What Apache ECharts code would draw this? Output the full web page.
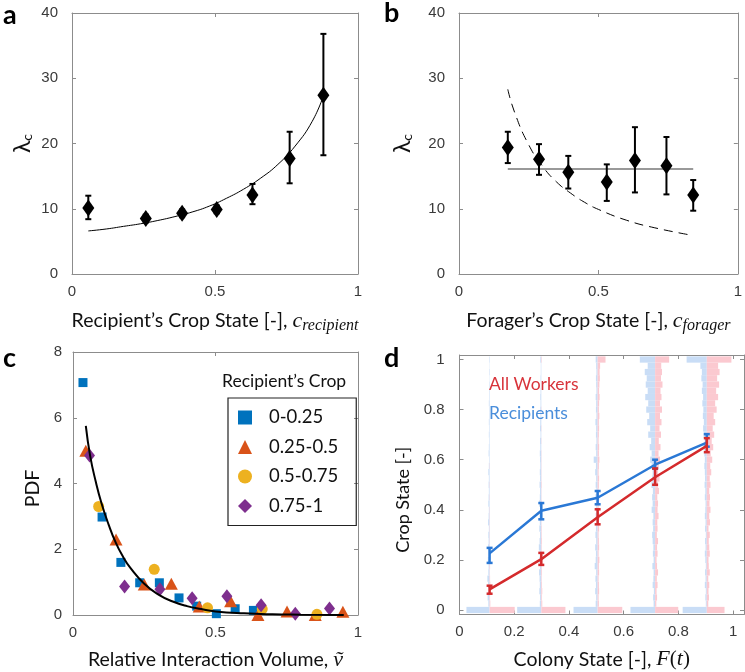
<!DOCTYPE html>
<html><head><meta charset="utf-8">
<script src="https://cdn.jsdelivr.net/npm/echarts@6/dist/echarts.min.js"></script>
<style>html,body{margin:0;padding:0;background:#fff}#c{width:745px;height:672px}</style>
</head><body><div id="c"></div><script>
// ---------- Panel a ----------
const aX   = [0.057, 0.258, 0.385, 0.506, 0.631, 0.761, 0.879];
const aY   = [10.1, 8.5, 9.3, 9.9, 12.1, 17.7, 27.4];
const aLo  = [8.4, 7.9, 8.7, 9.3, 10.7, 13.9, 18.2];
const aHi  = [12.0, 9.1, 9.9, 10.5, 13.8, 21.8, 36.8];
const aFitX = [0.057, 0.12, 0.18, 0.24, 0.30, 0.36, 0.42, 0.48, 0.54, 0.60, 0.66, 0.72, 0.78, 0.84, 0.879];
const aFitY = [6.6, 6.9, 7.3, 7.7, 8.2, 8.8, 9.5, 10.4, 11.6, 13.0, 14.7, 16.8, 19.6, 23.4, 27.3];
// ---------- Panel b ----------
const bX   = [0.175, 0.287, 0.392, 0.530, 0.631, 0.744, 0.840];
const bY   = [19.4, 17.6, 15.6, 14.1, 17.4, 16.6, 12.1];
const bLo  = [17.0, 15.2, 13.1, 11.2, 12.5, 12.2, 9.7];
const bHi  = [21.8, 19.9, 18.1, 16.8, 22.5, 21.0, 14.4];
const bFlatX = [0.175, 0.840];
const bFlatY = [16.1, 16.1];
const bDashX = [0.175, 0.2, 0.25, 0.3, 0.35, 0.4, 0.45, 0.5, 0.6, 0.7, 0.84];
const bDashY = [28.3, 24.7, 19.8, 16.5, 14.1, 12.4, 11.0, 9.9, 8.25, 7.1, 5.9];
// ---------- Panel c ----------
const cSqX  = [0.035, 0.102, 0.168, 0.234, 0.303, 0.372, 0.434, 0.503, 0.569, 0.633];
const cSqY  = [7.07, 2.98, 1.6, 0.98, 0.98, 0.52, 0.27, 0.04, 0.19, 0.14];
const cTriX = [0.045, 0.151, 0.25, 0.345, 0.443, 0.553, 0.649, 0.751, 0.85, 0.947];
const cTriY = [5.0, 2.3, 0.93, 0.95, 0.26, 0.42, 0.0, 0.11, 0.0, 0.1];
const cCirX = [0.09, 0.285, 0.472, 0.664, 0.856];
const cCirY = [3.3, 1.39, 0.22, 0.18, 0.02];
const cDiaX = [0.058, 0.181, 0.305, 0.418, 0.54, 0.66, 0.78, 0.90];
const cDiaY = [4.85, 0.87, 0.78, 0.51, 0.57, 0.3, 0.04, 0.2];
const cFitX = [0.045, 0.06, 0.08, 0.10, 0.125, 0.15, 0.175, 0.2, 0.25, 0.3, 0.35, 0.4, 0.45, 0.5, 0.6, 0.7, 0.8, 0.95];
const cFitY = [5.75, 4.85, 4.05, 3.4, 2.75, 2.2, 1.78, 1.45, 0.95, 0.62, 0.41, 0.27, 0.18, 0.11, 0.05, 0.02, 0.01, 0.0];
const cLegend = ['0-0.25', '0.25-0.5', '0.5-0.75', '0.75-1'];
// ---------- Panel d ----------
const dX     = [0.110, 0.299, 0.505, 0.715, 0.904];
const dAllY  = [0.082, 0.203, 0.370, 0.530, 0.655];
const dAllLo = [0.065, 0.180, 0.342, 0.500, 0.630];
const dAllHi = [0.097, 0.228, 0.402, 0.565, 0.686];
const dRecY  = [0.226, 0.396, 0.448, 0.580, 0.668];
const dRecLo = [0.188, 0.362, 0.422, 0.564, 0.652];
const dRecHi = [0.248, 0.427, 0.475, 0.600, 0.702];
// histogram bins (crop state 0, 0.025, ... 1.0), relative bar length
const histBins = [0,0.025,0.05,0.075,0.1,0.125,0.15,0.175,0.2,0.225,0.25,0.275,0.3,0.325,0.35,0.375,0.4,0.425,0.45,0.475,0.5,0.525,0.55,0.575,0.6,0.625,0.65,0.675,0.7,0.725,0.75,0.775,0.8,0.825,0.85,0.875,0.9,0.925,0.95,0.975,1.0];
const hRec1 = [0.94,0.05,0.08,0.04,0.06,0.09,0.05,0.04,0.07,0.05,0.06,0.04,0.05,0.03,0.06,0.04,0.03,0.05,0.04,0.03,0.04,0.03,0.05,0.03,0.02,0.04,0.03,0.02,0.03,0.02,0.03,0.02,0.02,0.03,0.02,0.02,0.02,0.01,0.02,0.01,0.02];
const hAll1 = [1.02,0.03,0.02,0.02,0.03,0.02,0.01,0.02,0.01,0.02,0.01,0.01,0.01,0.01,0.01,0.01,0.01,0,0.01,0,0.01,0,0,0.01,0,0,0,0,0,0,0,0,0,0,0,0,0,0,0,0,0];
const hRec2 = [0.98,0.06,0.05,0.08,0.06,0.07,0.09,0.05,0.08,0.06,0.1,0.07,0.05,0.08,0.06,0.07,0.05,0.09,0.06,0.05,0.07,0.05,0.06,0.04,0.05,0.06,0.04,0.05,0.03,0.05,0.04,0.03,0.04,0.03,0.04,0.03,0.02,0.03,0.02,0.02,0.04];
const hAll2 = [0.98,0.04,0.03,0.04,0.03,0.02,0.03,0.02,0.03,0.02,0.02,0.03,0.02,0.02,0.01,0.02,0.01,0.02,0.01,0.01,0.02,0.01,0.01,0.01,0.01,0.01,0,0.01,0,0.01,0,0,0.01,0,0,0,0,0,0,0,0.02];
const hRec3 = [0.98,0.08,0.06,0.1,0.07,0.09,0.06,0.12,0.08,0.07,0.1,0.06,0.09,0.07,0.05,0.08,0.06,0.07,0.09,0.05,0.08,0.06,0.1,0.07,0.16,0.06,0.08,0.05,0.07,0.06,0.09,0.05,0.07,0.06,0.08,0.05,0.06,0.07,0.05,0.06,0.08];
const hAll3 = [1.0,0.05,0.04,0.06,0.05,0.04,0.06,0.05,0.07,0.04,0.06,0.05,0.04,0.06,0.05,0.07,0.04,0.05,0.06,0.04,0.05,0.06,0.04,0.05,0.07,0.05,0.06,0.04,0.05,0.06,0.05,0.07,0.05,0.06,0.08,0.06,0.07,0.09,0.08,0.1,0.32];
const hRec4 = [1.0,0.06,0.08,0.05,0.1,0.07,0.06,0.11,0.06,0.09,0.07,0.1,0.12,0.08,0.1,0.07,0.14,0.1,0.12,0.09,0.15,0.12,0.1,0.14,0.2,0.14,0.22,0.16,0.28,0.2,0.32,0.24,0.36,0.28,0.4,0.3,0.38,0.34,0.42,0.3,0.62];
const hAll4 = [0.94,0.05,0.08,0.06,0.1,0.07,0.12,0.08,0.06,0.1,0.08,0.12,0.07,0.1,0.09,0.14,0.1,0.12,0.09,0.16,0.12,0.18,0.12,0.15,0.2,0.14,0.22,0.15,0.24,0.18,0.26,0.2,0.28,0.2,0.26,0.22,0.3,0.24,0.28,0.25,0.57];
const hRec5 = [0.98,0.04,0.06,0.04,0.08,0.05,0.07,0.04,0.06,0.08,0.05,0.07,0.04,0.07,0.05,0.08,0.06,0.05,0.08,0.06,0.09,0.07,0.08,0.1,0.08,0.1,0.12,0.09,0.13,0.15,0.12,0.16,0.14,0.18,0.15,0.2,0.17,0.22,0.2,0.26,0.82];
const hAll5 = [0.72,0.06,0.09,0.07,0.1,0.06,0.12,0.08,0.07,0.12,0.1,0.08,0.12,0.07,0.13,0.1,0.15,0.11,0.13,0.1,0.15,0.12,0.18,0.14,0.22,0.16,0.26,0.2,0.3,0.24,0.34,0.28,0.4,0.34,0.46,0.38,0.5,0.42,0.52,0.46,1.0];
const hRec = [hRec1, hRec2, hRec3, hRec4, hRec5];
const hAll = [hAll1, hAll2, hAll3, hAll4, hAll5];

// ---------- helpers ----------
const zip = (xs, ys) => xs.map((x, i) => [x, ys[i]]);
const zip3 = (xs, a, b) => xs.map((x, i) => [x, a[i], b[i]]);
const FT = 'Lato, "Open Sans", sans-serif';
const FN = '"Liberation Sans", Arial, sans-serif';
const FS = '"Liberation Serif", "DejaVu Serif", serif';
const AXC = '#8c8c8c';
const HIST_BIN = 0.025;
const HIST_SCALE = 0.09; // x-units per relative length 1

function xAx(grid, min, max, opt) {
  opt = opt || {};
  return {
    type: 'value', gridIndex: grid, min: min, max: max, position: opt.top ? 'top' : 'bottom',
    interval: opt.interval,
    axisLine: { show: true, onZero: false, lineStyle: { color: AXC, width: 1 } },
    axisTick: { show: true, inside: true, length: 4, lineStyle: { color: AXC }, customValues: opt.custom },
    axisLabel: { show: !opt.top, color: '#3a3a3a', fontFamily: FN, fontSize: 15, margin: 10, customValues: opt.custom },
    splitLine: { show: false },
    name: opt.name, nameLocation: 'middle', nameGap: opt.gap,
    nameTextStyle: opt.nts
  };
}
function yAx(grid, min, max, opt) {
  opt = opt || {};
  return {
    type: 'value', gridIndex: grid, min: min, max: max, position: opt.right ? 'right' : 'left',
    interval: opt.interval,
    axisLine: { show: true, onZero: false, lineStyle: { color: AXC, width: 1 } },
    axisTick: { show: true, inside: true, length: 4, lineStyle: { color: AXC }, customValues: opt.custom },
    axisLabel: { show: !opt.right, color: '#3a3a3a', fontFamily: FN, fontSize: 15, margin: opt.margin || 12, customValues: opt.custom },
    splitLine: { show: false },
    name: opt.name, nameLocation: 'middle', nameGap: opt.gap,
    nameTextStyle: opt.nts
  };
}
const richBase = {
  i: { fontFamily: FS, fontStyle: 'italic', fontSize: 22, color: '#111' },
  s: { fontFamily: FS, fontStyle: 'italic', fontSize: 16, color: '#111', padding: [10, 0, 0, 0] },
  p: { fontFamily: FS, fontSize: 21, color: '#111' }
};
const ntsX = { fontFamily: FT, fontSize: 19.5, color: '#111', rich: richBase };
const ntsY = { fontFamily: FT, fontSize: 19.5, color: '#111', rich: {
  l: { fontFamily: FT, fontSize: 23, color: '#111' },
  s: { fontFamily: FT, fontSize: 14, color: '#111', padding: [9, 0, 0, 0] } } };
const ntsPDF = { fontFamily: FT, fontSize: 19.5, color: '#111', padding: [0, 10, 0, 0] };
const ntsCrop = { fontFamily: FT, fontSize: 18, color: '#111', padding: [0, 30, 0, 0] };

function errRender(color, lw, cap) {
  return function (params, api) {
    const x = api.value(0), lo = api.value(1), hi = api.value(2);
    const p1 = api.coord([x, lo]), p2 = api.coord([x, hi]);
    const st = { stroke: color, lineWidth: lw };
    return { type: 'group', children: [
      { type: 'line', shape: { x1: p1[0], y1: p1[1], x2: p2[0], y2: p2[1] }, style: st },
      { type: 'line', shape: { x1: p1[0] - cap, y1: p1[1], x2: p1[0] + cap, y2: p1[1] }, style: st },
      { type: 'line', shape: { x1: p2[0] - cap, y1: p2[1], x2: p2[0] + cap, y2: p2[1] }, style: st }
    ]};
  };
}
function errSeries(name, xi, xs, lo, hi, color, lw, cap, z) {
  return { type: 'custom', name: name, xAxisIndex: xi, yAxisIndex: xi, z: z || 3,
    data: zip3(xs, lo, hi), encode: { x: 0, y: [1, 2] }, renderItem: errRender(color, lw, cap), silent: true };
}
function histData(side, arrs) {
  const out = [];
  arrs.forEach((arr, k) => arr.forEach((v, j) => { if (v > 0) out.push([dX[k], histBins[j], v, side]); }));
  return out;
}
function histRender(color) {
  return function (params, api) {
    const cx = api.value(0), yb = api.value(1), v = api.value(2), side = api.value(3);
    const p0 = api.coord([cx, yb - HIST_BIN / 2]);
    const p1 = api.coord([cx + side * v * HIST_SCALE, yb + HIST_BIN / 2]);
    return { type: 'rect', shape: { x: Math.min(p0[0], p1[0]), y: Math.min(p0[1], p1[1]),
      width: Math.abs(p1[0] - p0[0]), height: Math.abs(p1[1] - p0[1]) },
      style: { fill: color } };
  };
}

const chart = echarts.init(document.getElementById('c'), null, { renderer: 'canvas' });
const option = {
  animation: false,
  backgroundColor: '#fff',
  grid: [
    { left: 72, top: 13, width: 286, height: 261 },
    { left: 459, top: 13, width: 285, height: 261 },
    { left: 73, top: 352, width: 285, height: 263 },
    { left: 459.5, top: 355, width: 284.5, height: 259.5 }
  ],
  xAxis: [
    xAx(0, 0, 1, { interval: 0.5, name: 'Recipient’s Crop State [-], {i|c}{s|recipient}', gap: 34, nts: ntsX }),
    xAx(0, 0, 1, { interval: 0.5, top: true }),
    xAx(1, 0, 1, { interval: 0.5, name: 'Forager’s Crop State [-], {i|c}{s|forager}', gap: 34, nts: ntsX }),
    xAx(1, 0, 1, { interval: 0.5, top: true }),
    xAx(2, 0, 1, { interval: 0.5, name: 'Relative Interaction Volume, {i|ṽ}', gap: 34, nts: ntsX }),
    xAx(2, 0, 1, { interval: 0.5, top: true }),
    xAx(3, 0, 1.04, { custom: [0, 0.2, 0.4, 0.6, 0.8, 1], name: 'Colony State [-], {i|F}{p|(}{i|t}{p|)}', gap: 34, nts: ntsX }),
    xAx(3, 0, 1.04, { custom: [0, 0.2, 0.4, 0.6, 0.8, 1], top: true })
  ],
  yAxis: [
    yAx(0, 0, 40, { interval: 10, name: '{l|λ}{s|c}', gap: 38, nts: ntsY, margin: 14 }),
    yAx(0, 0, 40, { interval: 10, right: true }),
    yAx(1, 0, 40, { interval: 10, name: '{l|λ}{s|c}', gap: 45, nts: ntsY, margin: 14 }),
    yAx(1, 0, 40, { interval: 10, right: true }),
    yAx(2, 0, 8, { interval: 2, name: 'PDF', gap: 30, nts: ntsPDF, margin: 11 }),
    yAx(2, 0, 8, { interval: 2, right: true }),
    yAx(3, -0.018, 1.018, { custom: [0, 0.2, 0.4, 0.6, 0.8, 1], name: 'Crop State [-]', gap: 47, nts: ntsCrop, margin: 15 }),
    yAx(3, -0.018, 1.018, { custom: [0, 0.2, 0.4, 0.6, 0.8, 1], right: true })
  ],
  legend: {
    data: cLegend, orient: 'vertical', left: 228, top: 398,
    padding: [10, 18, 10, 10], itemGap: 10.5, itemWidth: 14, itemHeight: 14,
    borderColor: '#222', borderWidth: 1.2, selectedMode: false,
    itemStyle: { opacity: 1 },
    textStyle: { fontFamily: FT, fontSize: 18.5, color: '#111', padding: [0, 0, 0, 12] }
  },
  graphic: [
    { type: 'text', left: 3, top: 2, style: { text: 'a', fontFamily: FT, fontWeight: 'bold', fontSize: 27, fill: '#000' } },
    { type: 'text', left: 384, top: 0, style: { text: 'b', fontFamily: FT, fontWeight: 'bold', fontSize: 27, fill: '#000' } },
    { type: 'text', left: 3, top: 345, style: { text: 'c', fontFamily: FT, fontWeight: 'bold', fontSize: 27, fill: '#000' } },
    { type: 'text', left: 384, top: 345, style: { text: 'd', fontFamily: FT, fontWeight: 'bold', fontSize: 27, fill: '#000' } },
    { type: 'text', left: 222, top: 372, style: { text: 'Recipient’s Crop', fontFamily: FT, fontSize: 17.5, fill: '#111' } },
    { type: 'text', left: 489, top: 375, z: 20, style: { text: 'All Workers', fontFamily: FT, fontSize: 17.5, fill: '#d8343b' } },
    { type: 'text', left: 489, top: 404, z: 20, style: { text: 'Recipients', fontFamily: FT, fontSize: 17.5, fill: '#4a8edb' } }
  ],
  series: [
    // Panel a
    { type: 'line', name: 'aFit', xAxisIndex: 0, yAxisIndex: 0, data: zip(aFitX, aFitY), smooth: true, showSymbol: false,
      lineStyle: { color: '#000', width: 1 }, z: 2, silent: true },
    errSeries('aErr', 0, aX, aLo, aHi, '#000', 2, 3),
    { type: 'scatter', name: 'aPts', xAxisIndex: 0, yAxisIndex: 0, data: zip(aX, aY), symbol: 'diamond', symbolSize: [12, 17],
      itemStyle: { color: '#000', opacity: 1 }, z: 4 },
    // Panel b
    { type: 'line', name: 'bFlat', xAxisIndex: 2, yAxisIndex: 2, data: zip(bFlatX, bFlatY), showSymbol: false,
      lineStyle: { color: '#777', width: 1.5 }, z: 2, silent: true },
    { type: 'line', name: 'bDash', xAxisIndex: 2, yAxisIndex: 2, data: zip(bDashX, bDashY), smooth: true, showSymbol: false,
      lineStyle: { color: '#000', width: 1, type: [9, 6] }, z: 2, silent: true },
    errSeries('bErr', 2, bX, bLo, bHi, '#000', 2, 3),
    { type: 'scatter', name: 'bPts', xAxisIndex: 2, yAxisIndex: 2, data: zip(bX, bY), symbol: 'diamond', symbolSize: [12, 17],
      itemStyle: { color: '#000', opacity: 1 }, z: 4 },
    // Panel c
    { type: 'scatter', name: '0-0.25', xAxisIndex: 4, yAxisIndex: 4, data: zip(cSqX, cSqY), symbol: 'rect', symbolSize: 9,
      itemStyle: { color: '#0072BD', opacity: 1 }, clip: false, z: 3 },
    { type: 'scatter', name: '0.25-0.5', xAxisIndex: 4, yAxisIndex: 4, data: zip(cTriX, cTriY), symbol: 'triangle', symbolSize: [13, 12],
      itemStyle: { color: '#D95319', opacity: 1 }, clip: false, z: 3 },
    { type: 'scatter', name: '0.5-0.75', xAxisIndex: 4, yAxisIndex: 4, data: zip(cCirX, cCirY), symbol: 'circle', symbolSize: 11,
      itemStyle: { color: '#EDB120', opacity: 1 }, clip: false, z: 3 },
    { type: 'scatter', name: '0.75-1', xAxisIndex: 4, yAxisIndex: 4, data: zip(cDiaX, cDiaY), symbol: 'diamond', symbolSize: [11, 14],
      itemStyle: { color: '#7E2F8E', opacity: 1 }, clip: false, z: 3 },
    { type: 'line', name: 'cFit', xAxisIndex: 4, yAxisIndex: 4, data: zip(cFitX, cFitY), smooth: true, showSymbol: false,
      lineStyle: { color: '#000', width: 2 }, z: 5, silent: true },
    // Panel d
    { type: 'custom', name: 'hRec', xAxisIndex: 6, yAxisIndex: 6, data: histData(-1, hRec), encode: { x: 0, y: 1 },
      renderItem: histRender('#c9ddf6'), z: 1, silent: true },
    { type: 'custom', name: 'hAll', xAxisIndex: 6, yAxisIndex: 6, data: histData(1, hAll), encode: { x: 0, y: 1 },
      renderItem: histRender('#fbc9d0'), z: 1, silent: true },
    { type: 'line', name: 'dRec', xAxisIndex: 6, yAxisIndex: 6, data: zip(dX, dRecY), showSymbol: false,
      lineStyle: { color: '#2a78d5', width: 2.5 }, z: 4, silent: true },
    errSeries('dRecErr', 6, dX, dRecLo, dRecHi, '#2a78d5', 2.5, 3, 4),
    { type: 'line', name: 'dAll', xAxisIndex: 6, yAxisIndex: 6, data: zip(dX, dAllY), showSymbol: false,
      lineStyle: { color: '#d42a2c', width: 2.5 }, z: 5, silent: true },
    errSeries('dAllErr', 6, dX, dAllLo, dAllHi, '#d42a2c', 2.5, 3, 5)
  ]
};
chart.setOption(option);
</script></body></html>
